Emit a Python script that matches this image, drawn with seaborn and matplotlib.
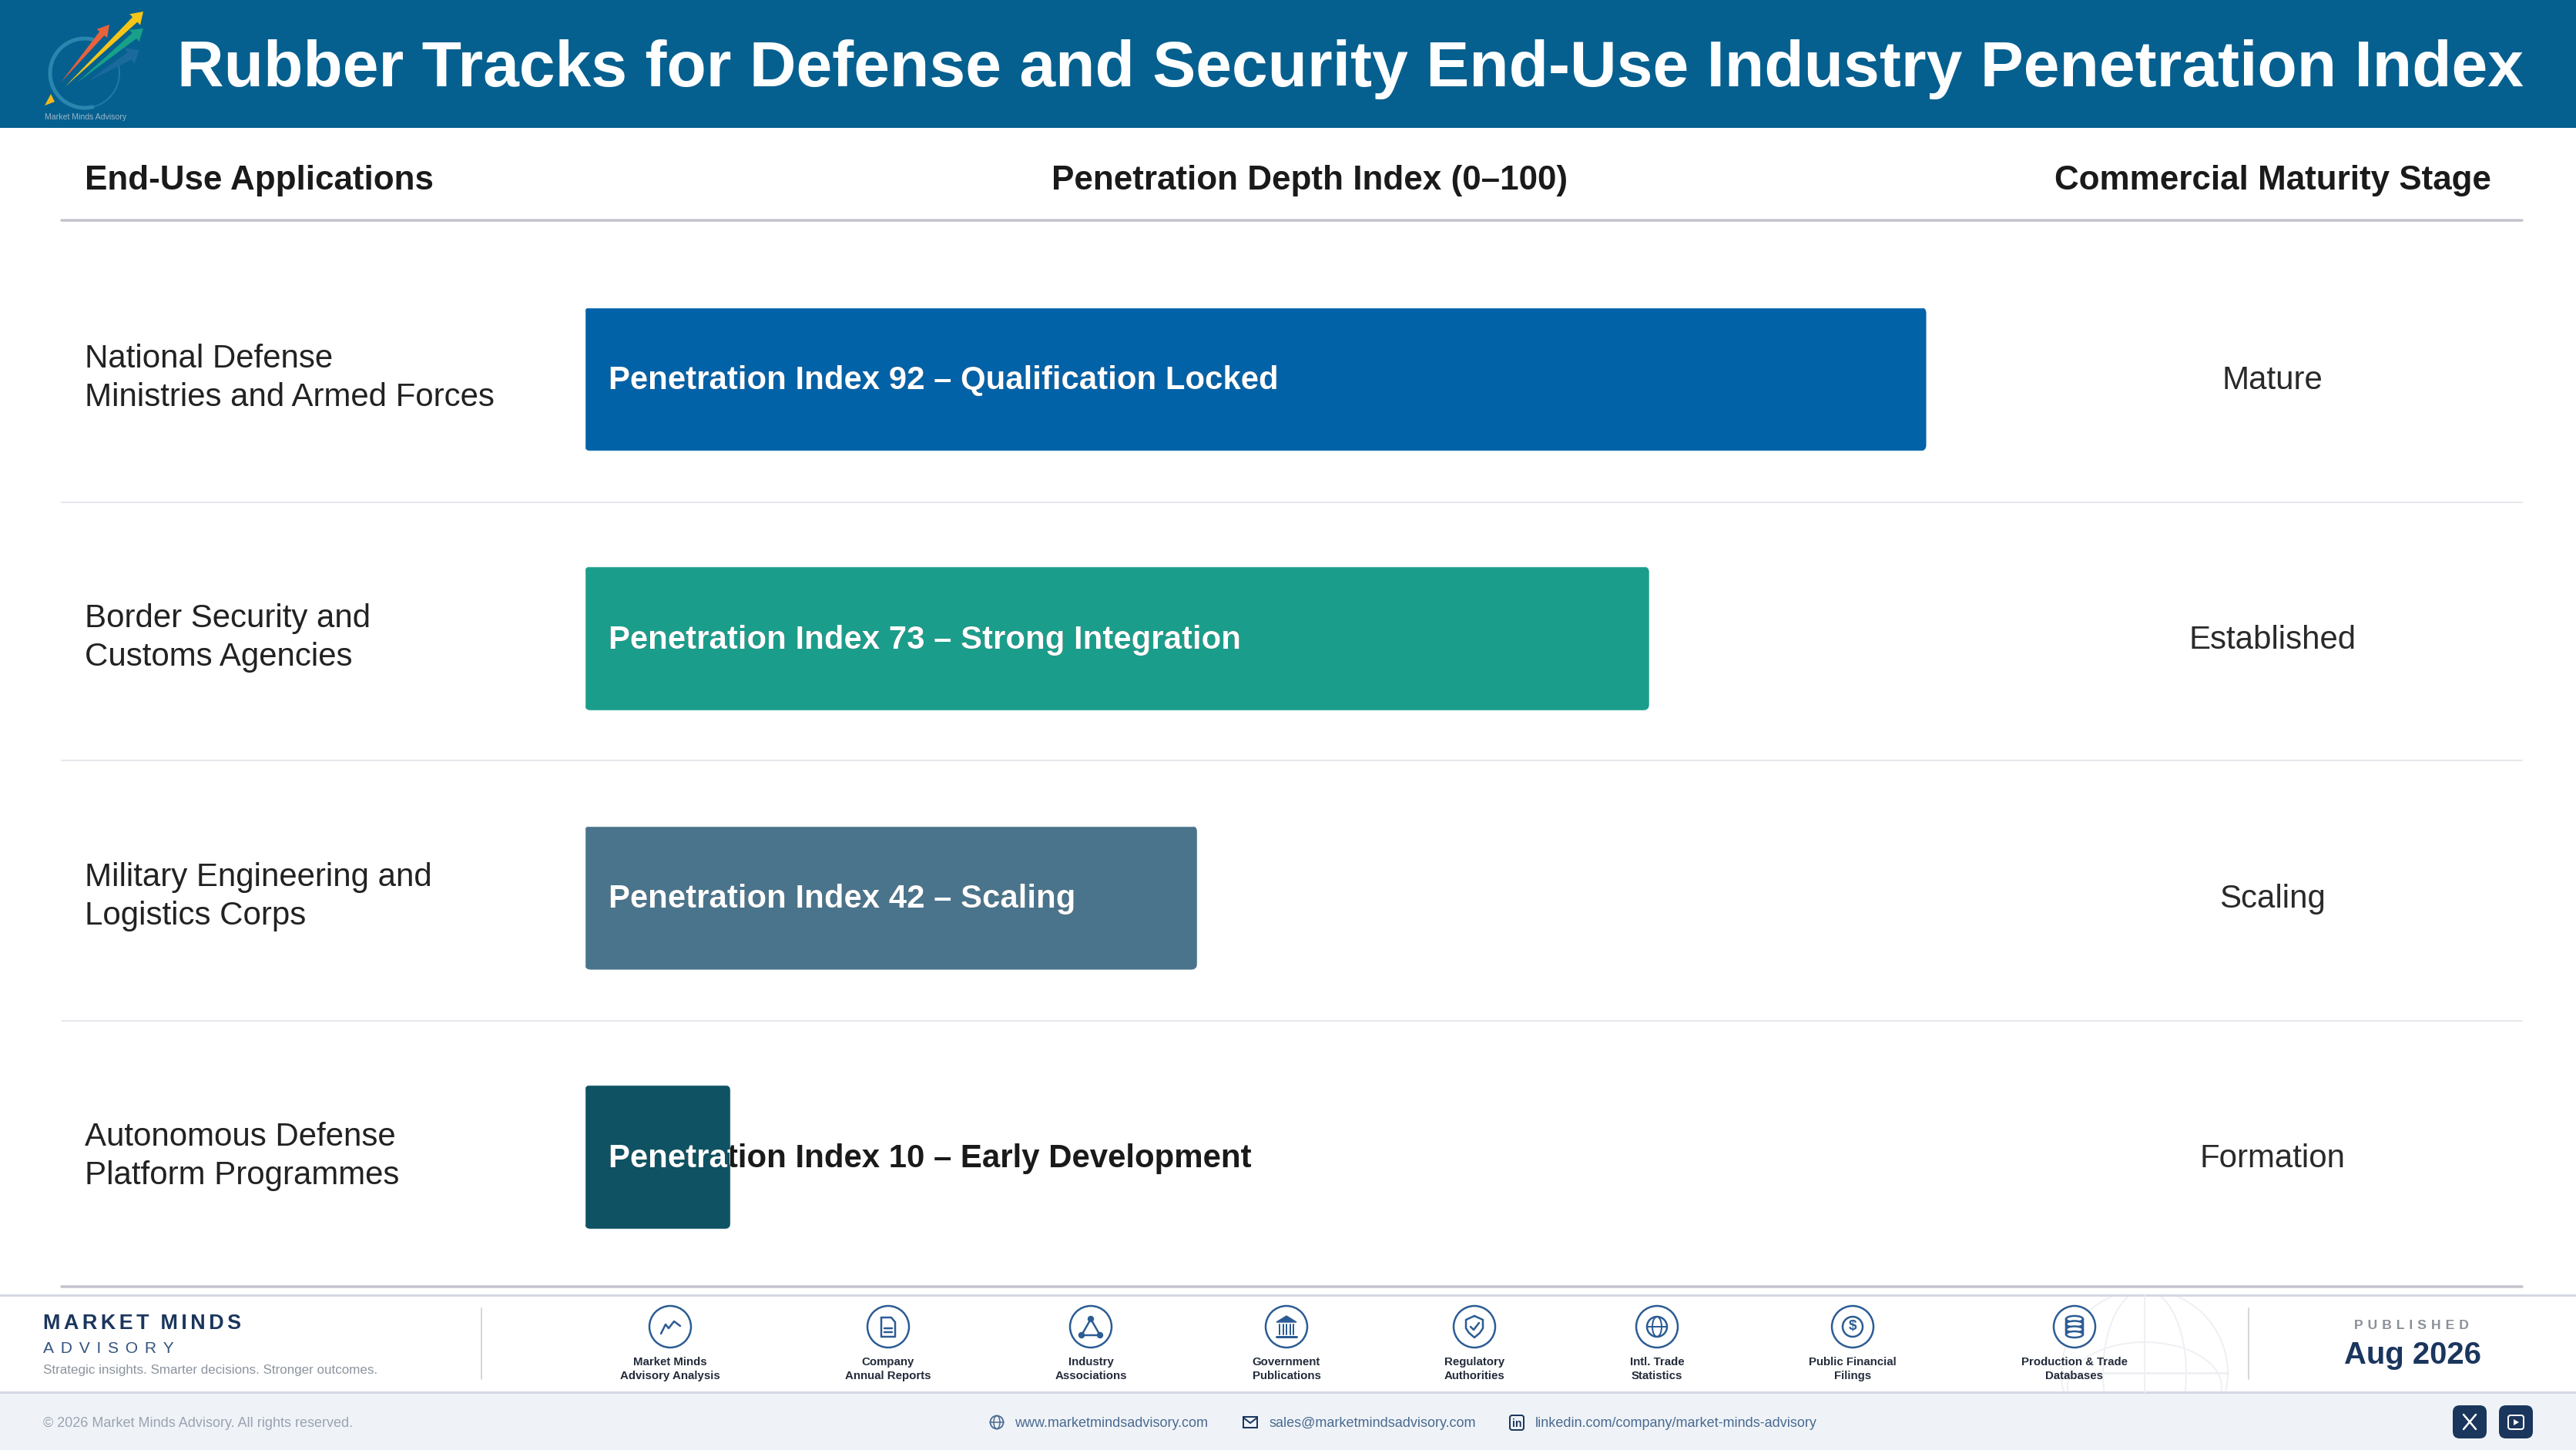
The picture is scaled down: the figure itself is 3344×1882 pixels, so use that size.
import matplotlib
matplotlib.use('Agg')
import matplotlib.pyplot as plt
import numpy as np
import pandas as pd
import seaborn as sns
from matplotlib.patches import Circle, Ellipse, FancyBboxPatch, Polygon, Rectangle, Arc
from matplotlib.transforms import ScaledTranslation, TransformedBbox

applications = ['National Defense\nMinistries and Armed Forces', 'Border Security and\nCustoms Agencies',
                'Military Engineering and\nLogistics Corps', 'Autonomous Defense\nPlatform Programmes']
penetration = [92, 73, 42, 10]
descriptions = ['Qualification Locked', 'Strong Integration', 'Scaling', 'Early Development']
stages = ['Mature', 'Established', 'Scaling', 'Formation']
bar_colors = ['#0262A8', '#1A9E8B', '#4A748C', '#0E5263']

source_labels = ['Market Minds\nAdvisory Analysis', 'Company\nAnnual Reports', 'Industry\nAssociations',
                 'Government\nPublications', 'Regulatory\nAuthorities', 'Intl. Trade\nStatistics',
                 'Public Financial\nFilings', 'Production & Trade\nDatabases']
source_x = [870, 1153, 1416, 1670, 1914, 2151, 2405, 2693]

W, H = 3344, 1882
NAVY = '#1B365D'
ICON = '#2C5C94'
DARK = '#1A1A1A'
FONT = ['Liberation Sans', 'DejaVu Sans']

sns.set_theme(style='white')
plt.rcParams['font.family'] = FONT


def px(v):
    return v * 0.72


fig = plt.figure(figsize=(W / 100, H / 100), dpi=100, facecolor='white')

# page furniture lives on a full size axes in pixel coordinates
bg = fig.add_axes([0, 0, 1, 1])
bg.set_xlim(0, W)
bg.set_ylim(H, 0)
bg.axis('off')


def txt(x, y, s, size, color=DARK, weight='normal', ha='left', va='baseline', **kw):
    return bg.text(x, y, s, fontsize=px(size), color=color, fontweight=weight, ha=ha, va=va, **kw)


def line(xs, ys, color=ICON, lw=2.5, **kw):
    bg.plot(xs, ys, color=color, lw=px(lw), solid_capstyle='round', solid_joinstyle='round', **kw)


def rrect(x0, y0, x1, y1, r, **kw):
    p = FancyBboxPatch((x0, y0), x1 - x0, y1 - y0, boxstyle=f'round,pad=0,rounding_size={r}', **kw)
    bg.add_patch(p)
    return p


def logo_arrow(tail, head, color, w):
    # tapered shaft, thin at the tail, with a small head
    tail, head = np.array(tail, float), np.array(head, float)
    u = (head - tail) / np.linalg.norm(head - tail)
    n = np.array([-u[1], u[0]])
    neck = head - u * 15
    pts = [tail, neck + n * w / 2, neck + n * w * 1.1, head, neck - n * w * 1.1, neck - n * w / 2]
    bg.add_patch(Polygon(pts, color=color, lw=0))


# header band
bg.add_patch(Rectangle((0, 0), W, 166, color='#05608F', lw=0))
txt(230, 112, 'Rubber Tracks for Defense and Security End-Use Industry Penetration Index', 83.95, 'white', 'bold')

# logo
bg.add_patch(Arc((110, 95), 90, 90, theta1=75, theta2=285, color='#2A86AE', lw=px(5)))
bg.add_patch(Arc((110, 95), 90, 90, theta1=-15, theta2=75, color='#2A86AE', lw=px(2), alpha=0.7))
logo_arrow((115, 105), (181, 65), '#1A6A9C', 11)
logo_arrow((99, 108), (186, 37), '#18A088', 9)
logo_arrow((79, 107), (142, 32), '#E8623C', 8)
logo_arrow((84, 113), (186, 15), '#F5C518', 9)
bg.add_patch(Polygon([(58, 137), (71, 132), (66, 122)], color='#F5B81C', lw=0))
txt(58, 155, 'Market Minds Advisory', 10.5, '#9DB6C8')

# column headers
txt(110, 246, 'End-Use Applications', 44, DARK, 'bold')
txt(1700, 246, 'Penetration Depth Index (0–100)', 44, DARK, 'bold', ha='center')
txt(2950, 246, 'Commercial Maturity Stage', 44, DARK, 'bold', ha='center')

# rules
line([80, 3274], [286, 286], '#C3C4CC', 3.5)
line([80, 3274], [1670, 1670], '#C3C4CC', 3.5)
for y in [652, 987, 1325]:
    line([80, 3274], [y, y], '#E6E7EC', 2)

# the chart itself
ax = fig.add_axes([759 / W, 1 - 1670 / H, 1893 / W, (1670 - 323.8) / H])
ax.patch.set_alpha(0)
df = pd.DataFrame({'application': applications, 'penetration': penetration})
sns.barplot(data=df, y='application', x='penetration', hue='application', palette=bar_colors,
            orient='h', width=0.555, legend=False, saturation=1, ax=ax)
ax.set_xlim(0, 100)
ax.set_ylim(3.5, -0.5)
ax.set_xlabel('')
ax.set_ylabel('')
ax.set_xticks([])
sns.despine(ax=ax, left=True, bottom=True)
ax.tick_params(axis='y', length=0, pad=px(649))
nudge = ScaledTranslation(0, 10.5 / 100, fig.dpi_scale_trans)
for lab in ax.get_yticklabels():
    lab.set_ha('left')
    lab.set_fontsize(px(42))
    lab.set_color('#222222')
    lab.set_linespacing(1.33)
    lab.set_transform(lab.get_transform() + nudge)

rx = 8 / (1893 / 100)
ry = 8 / (1346.2 / 4)
for i, bar in enumerate(ax.patches[:len(penetration)]):
    clip = FancyBboxPatch((bar.get_x(), bar.get_y()), bar.get_width(), bar.get_height(),
                          boxstyle=f'round,pad=0,rounding_size={rx}', mutation_aspect=ry / rx,
                          transform=ax.transData, fc='none', ec='none')
    ax.add_patch(clip)
    bar.set_clip_path(clip)
    label = f'Penetration Index {penetration[i]} – {descriptions[i]}'
    # dark copy shows past the bar end, white copy is cut to the bar
    for col, clipped in [(DARK, False), ('white', True)]:
        t = ax.annotate(label, xy=(0, i), xytext=(px(31), px(-2)), textcoords='offset points', va='center',
                        fontsize=px(42.05), fontweight='bold', color=col, zorder=5)
        if clipped:
            t.set_clip_on(True)
            t.set_clip_box(TransformedBbox(bar.get_bbox(), ax.transData))
    ax.annotate(stages[i], xy=((2950 - 759) / 18.93, i), xytext=(0, px(-2)), textcoords='offset points',
                ha='center', va='center', fontsize=px(42), color='#2A2A2A', annotation_clip=False)

# footer
line([0, W], [1681, 1681], '#D5D8E4', 3)
bg.add_patch(Rectangle((0, 1807), W, H - 1807, color='#EFF3F8', lw=0))
line([0, W], [1807, 1807], '#D5D8E4', 3)

# faint globe behind the last sources
band = Rectangle((0, 1682), W, 125, transform=bg.transData)
GLOBE = '#EFF0F4'
for patch in [Circle((2784, 1782), 108, fc='none', ec=GLOBE, lw=px(2)),
              Ellipse((2784, 1782), 108, 216, fc='none', ec=GLOBE, lw=px(2)),
              Ellipse((2784, 1800), 200, 116, fc='none', ec=GLOBE, lw=px(2))]:
    bg.add_patch(patch)
    patch.set_clip_path(band)
bg.plot([2676, 2892], [1782, 1782], color=GLOBE, lw=px(3))
bg.plot([2784, 2784], [1682, 1807], color=GLOBE, lw=px(2))

HS = '\u200a'
txt(56, 1725, (HS * 2).join('MARKET') + '  ' + (HS * 2).join('MINDS'), 27, NAVY, 'bold')
txt(56, 1756, (HS * 5).join('ADVISORY'), 21, '#34547F')
txt(56, 1783, 'Strategic insights. Smarter decisions. Stronger outcomes.', 17, '#8C949E')
line([625, 625], [1698, 1790], '#D5D7DD', 2)
line([2919, 2919], [1698, 1790], '#D5D7DD', 2)

for k, (x, lab) in enumerate(zip(source_x, source_labels)):
    cy = 1722
    bg.add_patch(Circle((x, cy), 27, fc='white', ec=ICON, lw=px(2.5), zorder=3))
    first, second = lab.split('\n')
    txt(x, 1772, first, 15, '#222B3A', 'bold', ha='center')
    txt(x, 1790, second, 15, '#222B3A', 'bold', ha='center')
    kw = dict(zorder=4)
    if k == 0:
        line(np.array([-12, -6, -2, 5, 13]) + x, np.array([9, -3, 2, -7, -1]) + cy, **kw)
    elif k == 1:
        line(np.array([-9, 4, 9, 9, -9, -9]) + x, np.array([-12, -12, -6, 13, 13, -12]) + cy, **kw)
        line([x - 5, x + 5], [cy + 2, cy + 2], **kw)
        line([x - 5, x + 5], [cy + 7, cy + 7], **kw)
    elif k == 2:
        line(np.array([0, -12, 12, 0]) + x, np.array([-10, 11, 11, -10]) + cy, **kw)
        for dx, dy in [(0, -10), (-12, 11), (12, 11)]:
            bg.add_patch(Circle((x + dx, cy + dy), 3.5, color=ICON, zorder=4))
    elif k == 3:
        bg.add_patch(Polygon([(x - 13, cy - 6), (x, cy - 14), (x + 13, cy - 6)], color=ICON, zorder=4))
        for dx in [-9, -4.5, 0, 4.5, 9]:
            line([x + dx, x + dx], [cy - 3, cy + 10], lw=2, **kw)
        line([x - 13, x + 13], [cy + 13, cy + 13], lw=3, **kw)
    elif k == 4:
        line(np.array([0, 11, 11, 7, 0, -7, -11, -11, 0]) + x, np.array([-14, -9, 2, 8, 14, 8, 2, -9, -14]) + cy, **kw)
        line(np.array([-5, -1, 6]) + x, np.array([0, 4, -5]) + cy, **kw)
    elif k == 5:
        bg.add_patch(Circle((x, cy), 13, fc='none', ec=ICON, lw=px(2.5), zorder=4))
        bg.add_patch(Ellipse((x, cy), 12, 26, fc='none', ec=ICON, lw=px(2), zorder=4))
        line([x - 13, x + 13], [cy, cy], lw=2, **kw)
    elif k == 6:
        bg.add_patch(Circle((x, cy), 13, fc='none', ec=ICON, lw=px(2.5), zorder=4))
        txt(x, cy, '$', 19, ICON, 'bold', ha='center', va='center', zorder=4)
    else:
        for dy in [-10, -3.5, 3.5, 10]:
            bg.add_patch(Ellipse((x, cy + dy), 22, 8, fc='white', ec=ICON, lw=px(2.5), zorder=4))
        line([x - 11, x - 11], [cy - 10, cy + 10], **kw)
        line([x + 11, x + 11], [cy - 10, cy + 10], **kw)

txt(3130, 1725, (HS * 4).join('PUBLISHED'), 17.5, '#8A8F98', 'bold', ha='center')
txt(3132, 1770, 'Aug 2026', 40, NAVY, 'bold', ha='center')

# bottom strip
txt(56, 1852, '© 2026 Market Minds Advisory. All rights reserved.', 18, '#9AA3B0')
LINK = '#4A6A90'
txt(1317, 1852, 'www.marketmindsadvisory.com', 18, LINK)
txt(1647, 1852, 'sales@marketmindsadvisory.com', 18, LINK)
txt(1993, 1852, 'linkedin.com/company/market-minds-advisory', 18, LINK)

bg.add_patch(Circle((1294, 1846), 8.5, fc='none', ec=LINK, lw=px(1.8)))
bg.add_patch(Ellipse((1294, 1846), 8, 17, fc='none', ec=LINK, lw=px(1.5)))
line([1285, 1303], [1846, 1846], LINK, 1.5)
bg.add_patch(Rectangle((1614, 1839), 18, 14, fc='none', ec=NAVY, lw=px(2)))
line([1614, 1623, 1632], [1840, 1847, 1840], NAVY, 2)
rrect(1960, 1837, 1978, 1856, 3, fc='none', ec=NAVY, lw=px(2))
txt(1969, 1852, 'in', 14, NAVY, 'bold', ha='center')

rrect(3184, 1824, 3228, 1867, 9, fc=NAVY, ec='none')
rrect(3244, 1824, 3288, 1867, 9, fc=NAVY, ec='none')
line([3198, 3214], [1836, 1855], 'white', 2.5)
line([3214, 3198], [1836, 1855], 'white', 2.5)
rrect(3256, 1837, 3276, 1855, 3, fc='none', ec='white', lw=px(2))
bg.add_patch(Polygon([(3263, 1842), (3263, 1850), (3270, 1846)], color='white', lw=0))

fig.savefig('out.png', dpi=100)
